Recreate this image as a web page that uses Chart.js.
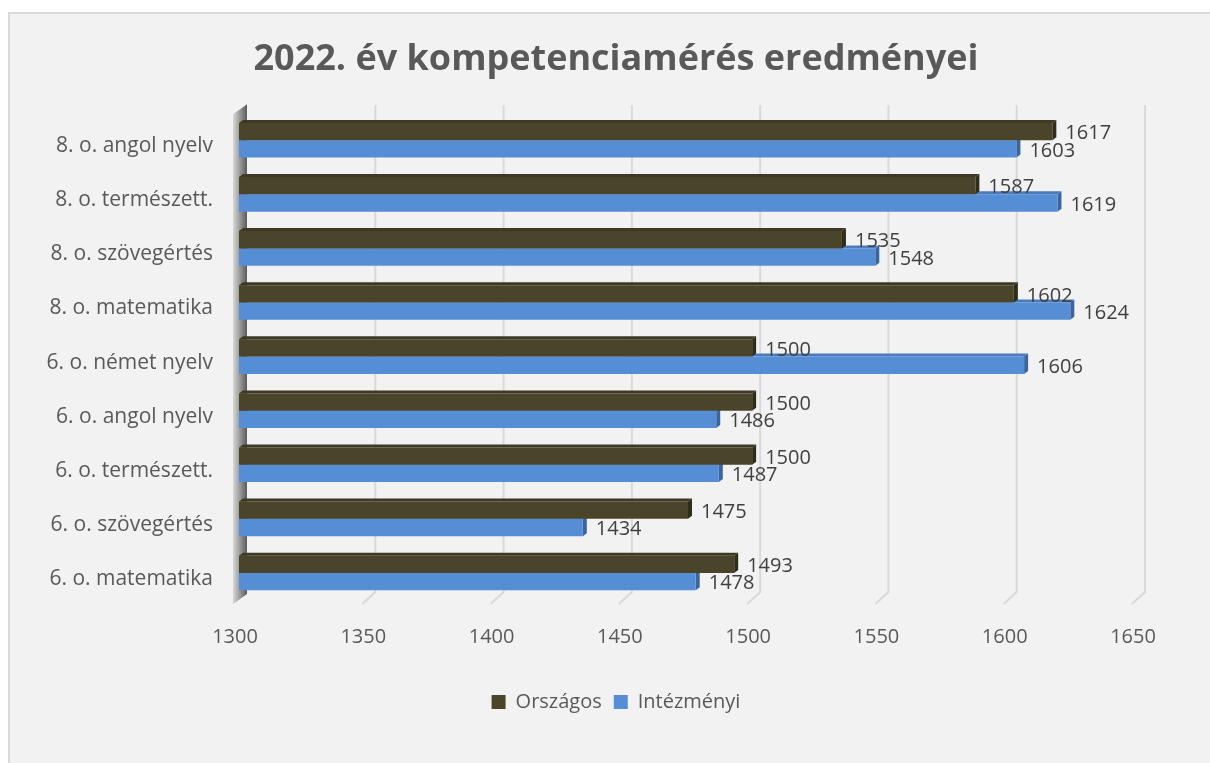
<!DOCTYPE html>
<html>
<head>
<meta charset="utf-8">
<script src="https://cdn.jsdelivr.net/npm/chart.js@4.4.1/dist/chart.umd.min.js"></script>
<style>
  body { margin: 0; background: #ffffff; overflow: hidden; }
  #frame {
    position: absolute; left: 8px; top: 12px; width: 1210px; height: 760px;
    background: #f2f2f2; border-left: 2px solid #d9d9d9; border-top: 2px solid #d9d9d9;
  }
  #myBarChart { position: absolute; left: 8px; top: 0; }
</style>
</head>
<body>
<div id="frame"></div>
<canvas id="myBarChart" width="1216" height="763"></canvas>
<script>
// kategóriák (felülről lefelé)
const categories = [
  "8. o. angol nyelv",
  "8. o. természett.",
  "8. o. szövegértés",
  "8. o. matematika",
  "6. o. német nyelv",
  "6. o. angol nyelv",
  "6. o. természett.",
  "6. o. szövegértés",
  "6. o. matematika",
];
const orszagos = [1617, 1587, 1535, 1602, 1500, 1500, 1500, 1475, 1493];
const intezmenyi = [1603, 1619, 1548, 1624, 1606, 1486, 1487, 1434, 1478];
const xTicks = [1300, 1350, 1400, 1450, 1500, 1550, 1600, 1650];

const FONT = "'Open Sans', 'Noto Sans', sans-serif";

// hátsó fal + rácsvonalak (3D hatás)
const backdrop = {
  id: "backdrop",
  beforeDatasetsDraw(chart) {
    const { ctx, chartArea, scales } = chart;
    const top = chartArea.top, bottom = chartArea.bottom;
    ctx.save();
    ctx.strokeStyle = "#d9d9d9";
    ctx.lineWidth = 2;
    xTicks.forEach(function (v) {
      if (v === xTicks[0]) return;
      const x = scales.x.getPixelForValue(v);
      ctx.beginPath();
      ctx.moveTo(x + 8, top - 8);
      ctx.lineTo(x + 8, bottom - 8);
      ctx.lineTo(x - 5, bottom + 4);
      ctx.stroke();
    });
    // bal oldali fal
    const x0 = scales.x.getPixelForValue(xTicks[0]);
    const g = ctx.createLinearGradient(x0 - 6, 0, x0 + 8, 0);
    g.addColorStop(0, "#d8d8d8");
    g.addColorStop(1, "#5a5a5a");
    ctx.fillStyle = g;
    ctx.beginPath();
    ctx.moveTo(x0 - 6, top + 1);
    ctx.lineTo(x0 + 8, top - 9);
    ctx.lineTo(x0 + 8, bottom - 6);
    ctx.lineTo(x0 - 6, bottom + 4);
    ctx.closePath();
    ctx.fill();
    ctx.restore();
  },
  // oszlopok oldal- és tetőlapja
  beforeDatasetDraw(chart, args) {
    const { ctx } = chart;
    const sides = ["#2f2c1a", "#3b65a0"];
    const tops = ["#3d3924", "#4a7bbd"];
    const i = args.index;
    ctx.save();
    args.meta.data.forEach(function (bar) {
      const h = bar.height / 2;
      const t = bar.y - h, b = bar.y + h;
      ctx.fillStyle = tops[i];
      ctx.beginPath();
      ctx.moveTo(bar.base, t);
      ctx.lineTo(bar.base + 4, t - 3);
      ctx.lineTo(bar.x + 4, t - 3);
      ctx.lineTo(bar.x, t);
      ctx.closePath();
      ctx.fill();
      ctx.fillStyle = sides[i];
      ctx.beginPath();
      ctx.moveTo(bar.x, t);
      ctx.lineTo(bar.x + 4, t - 3);
      ctx.lineTo(bar.x + 4, b - 3);
      ctx.lineTo(bar.x, b);
      ctx.closePath();
      ctx.fill();
    });
    ctx.restore();
  },
  // adatcímkék
  afterDatasetsDraw(chart) {
    const { ctx } = chart;
    ctx.save();
    ctx.font = "20px " + FONT;
    ctx.fillStyle = "#404040";
    ctx.textBaseline = "middle";
    ctx.textAlign = "left";
    chart.data.datasets.forEach(function (ds, i) {
      chart.getDatasetMeta(i).data.forEach(function (bar, j) {
        ctx.fillText(String(ds.data[j]), bar.x + 13, bar.y + 2);
      });
    });
    ctx.restore();
  },
};

const ctx = document.getElementById("myBarChart").getContext("2d");

const myBarChart = new Chart(ctx, {
  type: "bar",
  data: {
    labels: categories,
    datasets: [
      {
        label: "Országos",
        data: orszagos,
        base: 1300,
        backgroundColor: "#4a452a",
        categoryPercentage: 0.64,
        barPercentage: 1,
      },
      {
        label: "Intézményi",
        data: intezmenyi,
        base: 1300,
        backgroundColor: "#558ed5",
        categoryPercentage: 0.64,
        barPercentage: 1,
      },
    ],
  },
  options: {
    indexAxis: "y",
    responsive: false,
    animation: false,
    layout: { padding: { left: 0, right: 0, top: 0, bottom: 41 } },
    scales: {
      x: {
        min: 1300,
        max: 1650,
        grid: { display: false, drawTicks: false },
        border: { display: false },
        ticks: {
          stepSize: 50,
          padding: 25,
          labelOffset: -4,
          color: "#595959",
          font: { family: FONT, size: 20 },
          callback: function (value) { return String(value); },
        },
        afterFit(scale) { scale.height = 80; },
      },
      y: {
        grid: { display: false, drawTicks: false },
        border: { display: false },
        ticks: {
          padding: 26,
          labelOffset: 6,
          color: "#595959",
          font: { family: FONT, size: 21 },
        },
        afterFit(scale) { scale.width = 231; },
      },
      // üres jobb oldali sáv
      yRight: {
        position: "right",
        grid: { display: false, drawTicks: false },
        border: { display: false },
        ticks: { display: false },
        afterFit(scale) { scale.width = 87; },
      },
    },
    plugins: {
      title: {
        display: true,
        text: "2022. év kompetenciamérés eredményei",
        color: "#595959",
        font: { family: FONT, size: 36, weight: "bold" },
        padding: { top: 38, bottom: 32 },
      },
      legend: {
        display: true,
        position: "bottom",
        labels: {
          color: "#595959",
          font: { family: FONT, size: 20 },
          boxWidth: 14,
          boxHeight: 14,
          padding: 12,
        },
      },
      tooltip: { enabled: false },
    },
  },
  plugins: [backdrop],
});
</script>
</body>
</html>
